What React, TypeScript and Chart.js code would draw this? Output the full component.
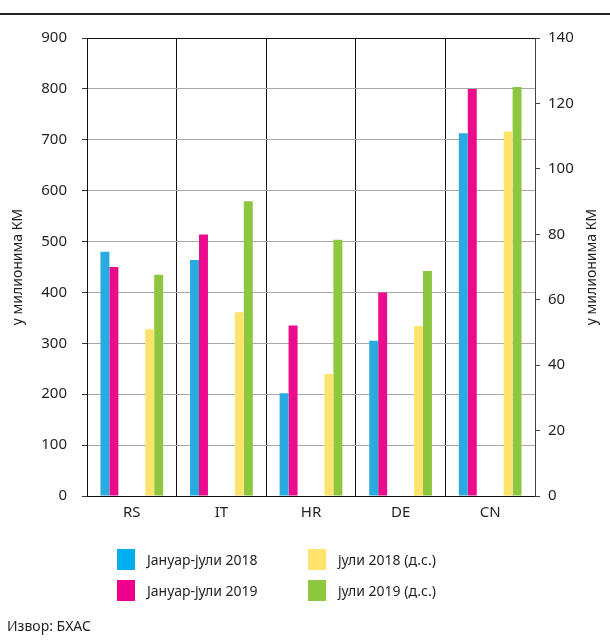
import React, { useEffect, useRef } from "react";
import { Chart, registerables } from "chart.js";

Chart.register(...registerables);

const categories = ["RS", "IT", "HR", "DE", "CN"];
const janJul2018 = [480, 464, 202, 305, 713];
const janJul2019 = [450, 514, 335, 400, 800];
const jul2018 = [51.0, 56.2, 37.3, 52.0, 111.4];
const jul2019 = [67.6, 90.1, 78.3, 68.8, 125.0];
const leftTicks = { min: 0, max: 900, step: 100 };
const rightTicks = { min: 0, max: 140, step: 20 };
const axisTitle = "у милионима КМ";
const legendLabels = ["Јануар-јули 2018", "Јануар-јули 2019", "јули 2018 (д.с.)", "јули 2019 (д.с.)"];
const source = "Извор: БХАС";

const COLORS = ["#29abe2", "#ec0b8c", "#fee46c", "#8dc63f"];
const LEGEND_COLORS = ["#00aeef", "#ec008c", "#ffe36e", "#8dc63f"];
const FONT = "'Noto Sans', sans-serif";
const TEXT = "#231f20";

export default function App() {
  const ref = useRef<HTMLCanvasElement | null>(null);

  useEffect(() => {
    if (!ref.current) return;
    document.body.style.margin = "0";
    const spacer = categories.map(() => null);
    const extras = {
      id: "extras",
      afterDraw(chart: any) {
        const ctx = chart.ctx;
        const ca = chart.chartArea;
        const cy = (ca.top + ca.bottom) / 2;
        ctx.save();
        ctx.fillStyle = "#222";
        ctx.fillRect(0, 13, 610, 2);
        ctx.fillStyle = TEXT;
        ctx.font = `14px ${FONT}`;
        ctx.textAlign = "center";
        ctx.textBaseline = "middle";
        ctx.save();
        ctx.translate(18, cy);
        ctx.rotate(-Math.PI / 2);
        ctx.fillText(axisTitle, 0, 0);
        ctx.restore();
        ctx.save();
        ctx.translate(592, cy);
        ctx.rotate(-Math.PI / 2);
        ctx.fillText(axisTitle, 0, 0);
        ctx.restore();
        ctx.restore();
      },
    };
    const chart = new Chart(ref.current, {
      type: "bar",
      data: {
        labels: categories,
        datasets: [
          { label: legendLabels[0], data: janJul2018, backgroundColor: COLORS[0], yAxisID: "y" },
          { label: legendLabels[1], data: janJul2019, backgroundColor: COLORS[1], yAxisID: "y" },
          { label: "", data: spacer, yAxisID: "y" },
          { label: "", data: spacer, yAxisID: "y" },
          { label: "", data: spacer, yAxisID: "y" },
          { label: legendLabels[2], data: jul2018, backgroundColor: COLORS[2], yAxisID: "y1" },
          { label: legendLabels[3], data: jul2019, backgroundColor: COLORS[3], yAxisID: "y1" },
        ] as any,
      },
      options: {
        responsive: false,
        animation: false,
        layout: { padding: { top: 38, left: 0, right: 0, bottom: 0 } },
        datasets: { bar: { categoryPercentage: 0.7, barPercentage: 1.0 } },
        plugins: { legend: { display: false }, tooltip: { enabled: false } },
        scales: {
          x: {
            offset: true,
            grid: { color: "#111", lineWidth: 1, drawTicks: false, offset: true },
            border: { display: true, color: "#111", width: 1 },
            ticks: { color: TEXT, font: { family: FONT, size: 15 }, padding: 8 },
            afterFit: (s: any) => { s.height = 148; },
          },
          y: {
            position: "left",
            min: leftTicks.min,
            max: leftTicks.max,
            ticks: { stepSize: leftTicks.step, color: TEXT, font: { family: FONT, size: 15 }, padding: 15 },
            grid: {
              color: (c: any) => (c.tick && (c.tick.value === leftTicks.max || c.tick.value === 0) ? "#111" : "#a8a8a8"),
              lineWidth: 1,
              tickLength: 5,
              tickColor: "#333",
            },
            border: { display: true, color: "#111", width: 1 },
            afterFit: (s: any) => { s.width = 87; },
          },
          y1: {
            position: "right",
            min: rightTicks.min,
            max: rightTicks.max,
            ticks: { stepSize: rightTicks.step, color: TEXT, font: { family: FONT, size: 15 }, padding: 8 },
            grid: { drawOnChartArea: false, tickLength: 5, tickColor: "#444" },
            border: { display: true, color: "#444", width: 1 },
            afterFit: (s: any) => { s.width = 75; },
          },
        },
      } as any,
      plugins: [extras],
    });
    return () => chart.destroy();
  }, []);

  const legendPos = [
    { x: 117, y: 549 },
    { x: 117, y: 580 },
    { x: 308, y: 549 },
    { x: 308, y: 580 },
  ];

  return (
    <div style={{ position: "relative", width: 610, height: 644, fontFamily: FONT, color: TEXT }}>
      <canvas ref={ref} width={610} height={644} style={{ display: "block" }} />
      {legendLabels.map((l, i) => (
        <div key={l} style={{ position: "absolute", left: legendPos[i].x, top: legendPos[i].y, height: 21, display: "flex", alignItems: "center" }}>
          <div style={{ width: 18, height: 21, background: LEGEND_COLORS[i] }} />
          <span style={{ marginLeft: 12, fontSize: 14, whiteSpace: "nowrap" }}>{l}</span>
        </div>
      ))}
      <div style={{ position: "absolute", left: 7, top: 616, fontSize: 14, whiteSpace: "nowrap" }}>{source}</div>
    </div>
  );
}
